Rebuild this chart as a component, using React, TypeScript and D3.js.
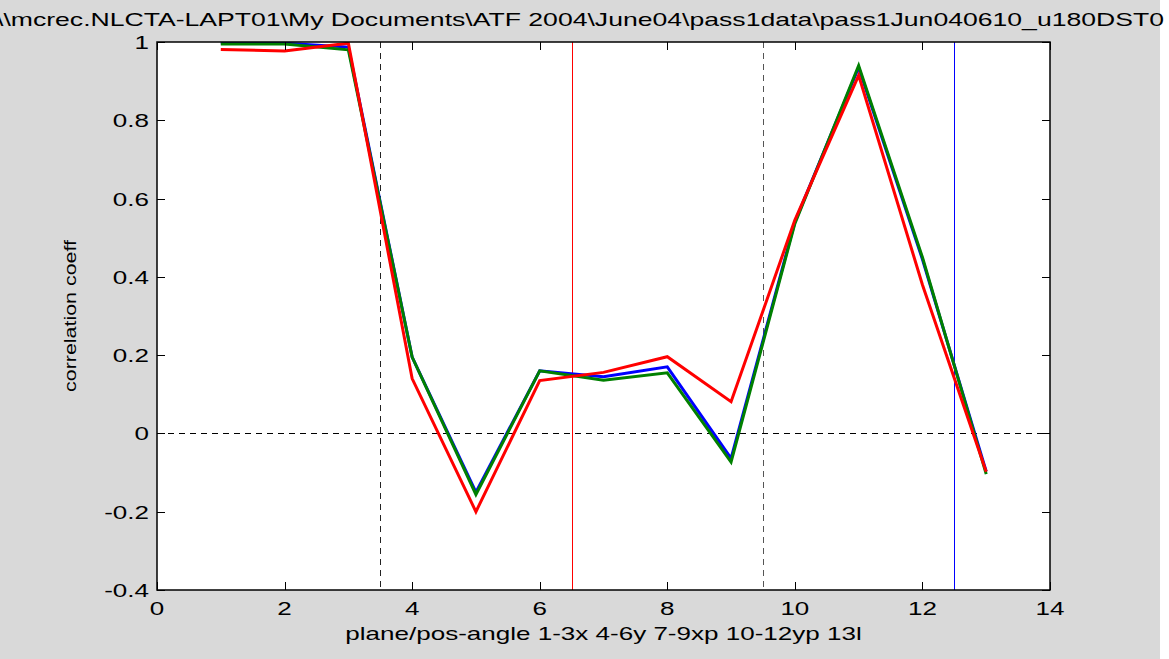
import React from "react";
import * as d3 from "d3";

const xs = [1, 2, 3, 4, 5, 6, 7, 8, 9, 10, 11, 12, 13];
const blueVals = [0.998, 0.997, 0.987, 0.195, -0.15, 0.16, 0.145, 0.17, -0.064, 0.54, 0.935, 0.445, -0.097];
const greenVals = [0.995, 0.995, 0.98, 0.195, -0.156, 0.16, 0.136, 0.155, -0.073, 0.536, 0.94, 0.45, -0.104];
const redVals = [0.981, 0.977, 0.997, 0.14, -0.2, 0.135, 0.156, 0.196, 0.081, 0.545, 0.915, 0.38, -0.098];
const xTicks = [0, 2, 4, 6, 8, 10, 12, 14];
const yTicks = [-0.4, -0.2, 0, 0.2, 0.4, 0.6, 0.8, 1];
const dashedX = [3.5, 9.5];
const redX = [6.5];
const blueX = [12.5];
const title = "\\\\mcrec.NLCTA-LAPT01\\My Documents\\ATF 2004\\June04\\pass1data\\pass1Jun040610_u180DST0";
const xLabel = "plane/pos-angle 1-3x 4-6y 7-9xp 10-12yp 13l";
const yLabel = "correlation coeff";

const W = 1169, H = 659;
const L = 157, R = 1050, T = 42, B = 590;
const SX = 1.4;

export default function App() {
  const x = d3.scaleLinear().domain([0, 14]).range([L, R]);
  const y = d3.scaleLinear().domain([-0.4, 1]).range([B, T]);
  const line = d3.line<number>().x((_, i) => x(xs[i])).y((d) => y(d));
  const font = "'Liberation Sans', Arial, sans-serif";
  const tl = 8;
  const px = (v: number) => Math.round(x(v)) + 0.5;
  const py = (v: number) => Math.round(y(v)) + 0.5;
  return (
    <svg width={W} height={H} style={{ position: "absolute", left: 0, top: 0, display: "block" }}>
      <rect x={0} y={0} width={W} height={H} fill="#ffffff" />
      <rect x={0} y={0} width={1160} height={H} fill="#d9d9d9" />
      <rect x={L} y={T} width={R - L} height={B - T} fill="#ffffff" />
      <defs>
        <clipPath id="plotclip">
          <rect x={L} y={T} width={R - L} height={B - T} />
        </clipPath>
      </defs>
      <g clipPath="url(#plotclip)">
        <line x1={x(0)} x2={x(14)} y1={py(0)} y2={py(0)} stroke="#000" strokeWidth={1} strokeDasharray="6,5" />
        {dashedX.map((v, i) => (
          <line key={"d" + i} x1={px(v)} x2={px(v)} y1={T} y2={B} stroke={i === 0 ? "#222" : "#555"} strokeWidth={1} strokeDasharray="6,5" />
        ))}
        {redX.map((v, i) => (
          <line key={"r" + i} x1={px(v)} x2={px(v)} y1={T} y2={B} stroke="#ff0000" strokeWidth={1} />
        ))}
        {blueX.map((v, i) => (
          <line key={"b" + i} x1={px(v)} x2={px(v)} y1={T} y2={B} stroke="#0000ff" strokeWidth={1} />
        ))}
        <path d={line(blueVals) || ""} fill="none" stroke="#0000ff" strokeWidth={3} />
        <path d={line(greenVals) || ""} fill="none" stroke="#008000" strokeWidth={3} />
        <path d={line(redVals) || ""} fill="none" stroke="#ff0000" strokeWidth={3} />
      </g>
      {xTicks.map((v) => (
        <g key={"xt" + v}>
          <line x1={px(v)} x2={px(v)} y1={B} y2={B - tl} stroke="#000" strokeWidth={1} />
          <line x1={px(v)} x2={px(v)} y1={T} y2={T + tl} stroke="#000" strokeWidth={1} />
          <text transform={`translate(${x(v)},${B + 25}) scale(${SX},1)`} textAnchor="middle" fontFamily={font} fontSize={18.6} fill="#000">{String(v)}</text>
        </g>
      ))}
      {yTicks.map((v) => (
        <g key={"yt" + v}>
          <line x1={L} x2={L + tl} y1={py(v)} y2={py(v)} stroke="#000" strokeWidth={1} />
          <line x1={R} x2={R - tl} y1={py(v)} y2={py(v)} stroke="#000" strokeWidth={1} />
          <text transform={`translate(${L - 8},${y(v) + 7}) scale(${SX},1)`} textAnchor="end" fontFamily={font} fontSize={18.6} fill="#000">{String(v)}</text>
        </g>
      ))}
      <rect x={L} y={T} width={R - L} height={B - T} fill="none" stroke="#000" strokeWidth={1.5} />
      <text x={-4} y={26} fontFamily={font} fontSize={18.6} fill="#000" textLength={1168} lengthAdjust="spacingAndGlyphs">{title}</text>
      <text transform={`translate(${(L + R) / 2},640) scale(${SX},1)`} textAnchor="middle" fontFamily={font} fontSize={18.6} fill="#000">{xLabel}</text>
      <text transform={`translate(76,${(T + B) / 2}) scale(1.2,1) rotate(-90)`} textAnchor="middle" fontFamily={font} fontSize={14} textLength={152} lengthAdjust="spacingAndGlyphs" fill="#000">{yLabel}</text>
    </svg>
  );
}
